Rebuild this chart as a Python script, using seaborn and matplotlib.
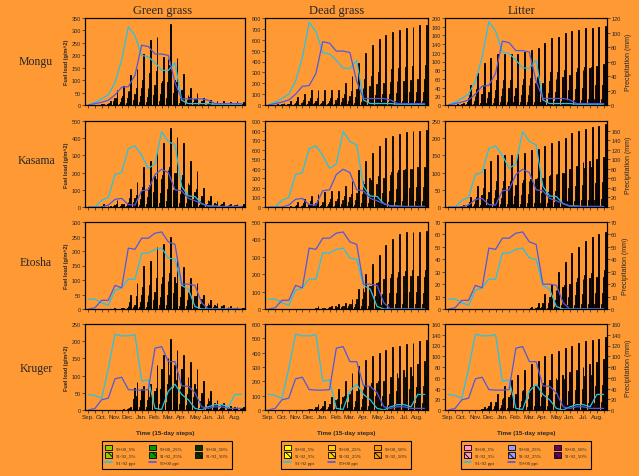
import numpy as np
import pandas as pd
import matplotlib
matplotlib.use("Agg")
import matplotlib.pyplot as plt
from matplotlib.patches import Patch
from matplotlib.lines import Line2D
import seaborn as sns

sns.set_style("ticks")
plt.rcParams['font.family'] = ['Liberation Sans', 'DejaVu Sans']
plt.rcParams['hatch.linewidth'] = 0.6

ORANGE = "#FF9933"
CYAN = "#22C4E8"
BLUE = "#5058E0"
W, H = 639, 477

MONTHS = ["Sep.", "Oct.", "Nov.", "Dec.", "Jan.", "Feb.", "Mar.",
          "Apr.", "May", "Jun.", "Jul.", "Aug."]
STEPS = list(range(24))
SITES = ["Mongu", "Kasama", "Etosha", "Kruger"]
FUELS = ["Green grass", "Dead grass", "Litter"]
SERIES = ["99-00_5%", "99-00_25%", "99-00_50%", "91-92_5%", "91-92_25%", "91-92_50%"]

# ── fuel load (g/m^2), 24 steps of 15 days ───────────────────────
# Mongu
mo_gg_00_5  = [0,0,0,1,5,5,9,7,12,11,13,15,30,16,10,7,4,3,2,1,1,1,1,1]
mo_gg_00_25 = [0,0,1,4,15,14,28,22,35,34,40,45,92,50,30,20,12,8,5,4,3,2,2,2]
mo_gg_00_50 = [0,0,3,8,30,30,55,45,70,70,80,90,185,100,60,40,25,15,10,8,6,5,4,4]
mo_gg_92_5  = [0,0,1,2,9,11,18,22,32,40,42,30,50,29,19,11,8,5,3,3,2,2,2,2]
mo_gg_92_25 = [0,1,2,7,28,36,58,70,100,128,135,95,160,92,60,34,24,15,11,9,7,6,7,6]
mo_gg_92_50 = [0,2,5,15,60,75,120,145,205,260,275,195,325,190,125,70,50,30,22,18,15,13,15,12]
mo_dg_00_5  = [0,0,1,1,3,4,6,6,6,6,7,9,12,22,24,26,28,30,31,33,34,35,35,36]
mo_dg_00_25 = [0,0,2,5,10,15,20,20,20,20,25,30,40,75,80,88,95,100,105,110,112,115,118,120]
mo_dg_00_50 = [0,0,5,10,20,30,40,40,40,40,50,60,80,150,160,175,190,200,210,220,225,230,235,240]
mo_dg_92_5  = [0,1,2,6,11,15,21,21,21,21,21,31,40,59,72,83,92,96,101,104,107,108,110,111]
mo_dg_92_25 = [0,2,7,20,36,48,68,68,68,68,68,100,130,190,235,270,300,315,330,340,350,355,362,365]
mo_dg_92_50 = [0,5,15,40,75,100,140,140,140,140,140,205,265,390,480,550,610,640,670,690,710,720,735,740]
mo_li_00_5  = [0,0,0,2,3,4,5,5,6,6,6,7,7,8,8,8,9,10,11,11,12,13,14,14]
mo_li_00_25 = [0,0,1,7,10,12,15,17,20,20,20,22,22,25,25,27,30,32,35,37,40,42,45,47]
mo_li_00_50 = [0,0,2,15,20,25,30,35,40,40,40,45,45,50,50,55,60,65,70,75,80,85,90,95]
mo_li_92_5  = [0,0,1,7,11,14,16,18,18,18,18,18,19,20,21,23,24,25,25,26,27,27,27,27]
mo_li_92_25 = [0,1,2,22,36,47,53,58,58,58,58,60,62,65,70,75,77,81,83,85,87,88,89,90]
mo_li_92_50 = [0,2,5,46,74,97,108,118,118,118,118,122,126,132,142,153,157,165,169,173,177,178,180,181]
# Kasama
ka_gg_00_5  = [0,0,0,0,2,2,5,8,14,17,27,24,32,30,23,21,14,10,6,4,3,2,2,1]
ka_gg_00_25 = [0,0,1,1,5,7,15,27,47,57,90,80,107,100,77,70,45,32,20,12,9,6,5,4]
ka_gg_00_50 = [0,0,3,3,10,15,30,55,95,115,180,160,215,200,155,140,90,65,40,25,18,12,10,8]
ka_gg_92_5  = [0,0,2,1,6,3,16,22,35,40,50,55,69,61,55,40,32,17,10,5,4,3,3,2]
ka_gg_92_25 = [0,0,7,2,20,10,52,72,115,130,165,185,230,200,185,130,105,55,32,17,15,10,10,7]
ka_gg_92_50 = [0,0,15,5,40,20,105,145,230,265,330,370,460,405,370,265,210,110,65,35,30,20,20,15]
ka_dg_00_5  = [0,0,0,1,1,3,4,6,7,8,9,10,15,22,40,45,36,45,51,55,58,60,62,63]
ka_dg_00_25 = [0,0,1,2,5,10,15,20,25,27,30,35,50,75,135,150,120,150,170,185,195,200,207,210]
ka_dg_00_50 = [0,0,2,5,10,20,30,40,50,55,60,70,100,150,270,300,240,300,340,370,390,400,415,420]
ka_dg_92_5  = [0,0,1,2,7,13,18,21,24,25,25,33,41,58,73,85,96,108,111,115,118,120,120,121]
ka_dg_92_25 = [0,0,2,7,25,42,60,70,80,85,85,110,137,195,242,285,320,360,370,382,395,400,400,402]
ka_dg_92_50 = [0,0,5,15,50,85,120,140,160,170,170,220,275,390,485,570,640,720,740,765,790,800,800,805]
ka_li_00_5  = [0,0,0,1,3,5,7,7,8,9,10,10,11,12,13,13,14,15,16,18,19,20,21,22]
ka_li_00_25 = [0,0,1,5,10,17,22,25,27,30,32,35,37,40,42,45,47,50,55,60,65,67,70,72]
ka_li_00_50 = [0,0,2,10,20,35,45,50,55,60,65,70,75,80,85,90,95,100,110,120,130,135,140,145]
ka_li_92_5  = [0,0,1,4,9,16,20,22,22,23,23,24,25,25,27,28,29,30,32,33,34,35,35,36]
ka_li_92_25 = [0,0,2,15,30,55,67,75,75,76,77,79,82,85,89,92,96,100,107,111,114,116,118,120]
ka_li_92_50 = [0,0,5,30,60,110,135,150,150,152,155,158,165,170,178,185,192,200,215,222,228,233,236,241]
# Etosha
et_gg_00_5  = [0,0,0,0,0,0,1,2,7,7,9,13,14,16,12,9,7,5,3,2,1,1,1,0]
et_gg_00_25 = [0,0,0,0,1,1,5,7,25,25,30,42,47,55,40,30,22,17,10,7,5,4,2,1]
et_gg_00_50 = [0,0,0,0,2,3,10,15,50,50,60,85,95,110,80,60,45,35,20,15,10,8,5,3]
et_gg_92_5  = [0,0,0,0,0,1,7,13,22,25,32,34,37,27,22,16,13,7,4,3,2,1,1,1]
et_gg_92_25 = [0,0,0,0,0,2,25,44,75,82,107,112,125,90,72,54,45,25,15,10,7,5,4,2]
et_gg_92_50 = [0,0,0,0,0,5,50,88,150,165,215,225,250,180,145,108,90,50,30,20,15,10,8,5]
et_dg_00_5  = [0,0,0,0,0,0,0,1,0,1,2,3,4,9,18,19,22,25,27,28,28,28,28,28]
et_dg_00_25 = [0,0,0,0,0,0,0,2,1,5,7,10,15,30,60,65,75,85,90,92,94,95,95,92]
et_dg_00_50 = [0,0,0,0,0,0,0,5,3,10,15,20,30,60,120,130,150,170,180,185,188,190,190,185]
et_dg_92_5  = [0,0,0,0,0,0,0,2,1,3,4,5,8,17,30,39,46,55,61,64,66,67,67,67]
et_dg_92_25 = [0,0,0,0,0,0,0,7,2,10,14,17,27,57,100,130,155,185,202,215,220,222,222,225]
et_dg_92_50 = [0,0,0,0,0,0,0,15,5,20,28,35,55,115,200,260,310,370,405,430,440,445,445,450]
et_li_00_5  = [0,0,0,0,0,0,0,0,0,0,0,0,0,0,1,1,2,3,3,3,4,4,4,4]
et_li_00_25 = [0,0,0,0,0,0,0,0,0,0,0,0,0,0,2,5,7,9,10,11,12,12,13,13]
et_li_00_50 = [0,0,0,0,0,0,0,0,0,0,0,0,0,1,5,10,15,18,20,22,24,25,26,26]
et_li_92_5  = [0,0,0,0,0,0,0,0,0,0,0,0,0,1,2,3,4,6,7,7,8,9,9,9]
et_li_92_25 = [0,0,0,0,0,0,0,0,0,0,0,0,1,2,6,10,15,19,22,25,27,29,30,31]
et_li_92_50 = [0,0,0,0,0,0,0,0,0,0,0,0,2,5,12,20,30,38,45,50,55,58,60,62]
# Kruger
kr_gg_00_5  = [0,0,0,0,0,0,1,10,9,9,8,18,22,19,18,14,11,7,5,3,2,1,1,1]
kr_gg_00_25 = [0,0,0,0,0,0,2,32,30,30,27,60,75,65,60,47,37,25,17,10,7,5,4,2]
kr_gg_00_50 = [0,0,0,0,0,0,5,65,60,60,55,120,150,130,120,95,75,50,35,20,15,10,8,5]
kr_gg_92_5  = [0,0,0,0,0,0,1,12,10,11,19,24,30,26,24,21,18,13,8,4,3,2,1,1]
kr_gg_92_25 = [0,0,0,0,0,1,5,40,35,37,65,80,102,87,80,70,60,42,27,15,10,6,5,4]
kr_gg_92_50 = [0,0,0,0,0,3,10,80,70,75,130,160,205,175,160,140,120,85,55,30,20,12,10,8]
kr_dg_00_5  = [0,0,0,0,0,0,1,3,4,7,10,13,16,19,22,25,28,30,34,39,42,45,48,51]
kr_dg_00_25 = [0,0,0,0,0,0,2,10,15,22,35,45,55,65,75,85,95,100,115,130,140,150,160,170]
kr_dg_00_50 = [0,0,0,0,0,0,5,20,30,45,70,90,110,130,150,170,190,200,230,260,280,300,320,340]
kr_dg_92_5  = [0,0,0,0,0,0,1,6,9,13,22,30,39,46,52,57,60,63,66,67,69,70,72,73]
kr_dg_92_25 = [0,0,0,0,0,0,5,20,30,45,75,100,130,155,175,190,200,210,220,225,230,235,240,245]
kr_dg_92_50 = [0,0,0,0,0,0,10,40,60,90,150,200,260,310,350,380,400,420,440,450,460,470,480,490]
kr_li_00_5  = [0,0,0,0,0,0,1,2,3,4,4,5,6,7,7,8,9,10,10,11,12,13,13,14]
kr_li_00_25 = [0,0,0,0,0,1,4,7,10,12,15,17,20,22,25,27,30,32,35,37,40,42,45,47]
kr_li_00_50 = [0,0,0,0,0,2,8,15,20,25,30,35,40,45,50,55,60,65,70,75,80,85,90,95]
kr_li_92_5  = [0,0,0,0,0,1,2,4,7,8,10,11,13,14,15,16,16,17,18,19,19,19,20,20]
kr_li_92_25 = [0,0,0,0,0,2,7,15,22,27,32,37,42,46,50,52,55,57,60,62,64,65,66,67]
kr_li_92_50 = [0,0,0,0,0,5,15,30,45,55,65,75,85,92,100,105,110,115,120,125,128,130,132,135]

# ── precipitation (mm) ──────────────────────────────────────────
mo_ppt_9192 = [0,4,9,15,33,66,115,102,73,71,62,51,51,62,7,2,2,2,2,1,1,1,1,1]
mo_ppt_9900 = [0,2,4,7,15,26,27,44,88,86,75,75,73,33,9,9,9,9,7,2,2,2,2,2]
ka_ppt_9192 = [0,0,14,20,68,72,122,128,108,81,90,158,137,130,43,23,22,7,2,2,1,1,1,1]
ka_ppt_9900 = [0,0,0,4,16,18,5,4,34,36,68,79,72,36,34,18,13,7,2,1,1,1,1,1]
et_ppt_9192 = [8,8,5,3,15,17,24,24,45,45,48,49,41,40,19,16,2,0,0,0,0,0,0,0]
et_ppt_9900 = [0,1,7,7,19,17,49,48,57,57,61,62,54,52,20,20,19,5,0,0,0,0,0,0]
kr_ppt_9192 = [29,27,22,77,141,138,138,140,54,56,3,1,35,48,29,19,3,0,6,10,10,6,29,29]
kr_ppt_9900 = [0,3,19,22,58,61,38,37,37,38,115,118,90,90,45,44,32,6,3,6,6,3,3,3]

BARS = {
    (0, 0): [mo_gg_00_5, mo_gg_00_25, mo_gg_00_50, mo_gg_92_5, mo_gg_92_25, mo_gg_92_50],
    (0, 1): [mo_dg_00_5, mo_dg_00_25, mo_dg_00_50, mo_dg_92_5, mo_dg_92_25, mo_dg_92_50],
    (0, 2): [mo_li_00_5, mo_li_00_25, mo_li_00_50, mo_li_92_5, mo_li_92_25, mo_li_92_50],
    (1, 0): [ka_gg_00_5, ka_gg_00_25, ka_gg_00_50, ka_gg_92_5, ka_gg_92_25, ka_gg_92_50],
    (1, 1): [ka_dg_00_5, ka_dg_00_25, ka_dg_00_50, ka_dg_92_5, ka_dg_92_25, ka_dg_92_50],
    (1, 2): [ka_li_00_5, ka_li_00_25, ka_li_00_50, ka_li_92_5, ka_li_92_25, ka_li_92_50],
    (2, 0): [et_gg_00_5, et_gg_00_25, et_gg_00_50, et_gg_92_5, et_gg_92_25, et_gg_92_50],
    (2, 1): [et_dg_00_5, et_dg_00_25, et_dg_00_50, et_dg_92_5, et_dg_92_25, et_dg_92_50],
    (2, 2): [et_li_00_5, et_li_00_25, et_li_00_50, et_li_92_5, et_li_92_25, et_li_92_50],
    (3, 0): [kr_gg_00_5, kr_gg_00_25, kr_gg_00_50, kr_gg_92_5, kr_gg_92_25, kr_gg_92_50],
    (3, 1): [kr_dg_00_5, kr_dg_00_25, kr_dg_00_50, kr_dg_92_5, kr_dg_92_25, kr_dg_92_50],
    (3, 2): [kr_li_00_5, kr_li_00_25, kr_li_00_50, kr_li_92_5, kr_li_92_25, kr_li_92_50],
}
PPT = [(mo_ppt_9192, mo_ppt_9900), (ka_ppt_9192, ka_ppt_9900),
       (et_ppt_9192, et_ppt_9900), (kr_ppt_9192, kr_ppt_9900)]

FUEL_YMAX = [[350, 800, 200], [500, 900, 250], [300, 500, 70], [250, 600, 160]]
FUEL_STEP = [[50, 100, 20], [100, 100, 50], [50, 100, 10], [50, 100, 20]]
PPT_YMAX = [[128, 121, 120], [180, 180, 180], [70, 70, 70], [160, 160, 160]]
PPT_TICKS = [range(0, 121, 20), range(0, 161, 20), range(0, 71, 10), range(0, 161, 20)]

PALETTES = [["#99CC00", "#009900", "#003300"] * 2,
            ["#FFFF00", "#FFCC00", "#FF9900"] * 2,
            ["#FF99CC", "#9999FF", "#660066"] * 2]

ROWS = [(19, 106), (122, 208), (223, 310), (325, 411)]
COLS = [(85, 245), (265, 428), (445, 607)]

def rect(col, row):
    l, r = col
    t, b = row
    return [l / W, 1 - b / H, (r - l) / W, (b - t) / H]

fig = plt.figure(figsize=(W / 100, H / 100), dpi=100)
fig.patch.set_facecolor(ORANGE)

for r, site in enumerate(SITES):
    for c, fuel in enumerate(FUELS):
        ax = fig.add_axes(rect(COLS[c], ROWS[r]))
        ax.set_facecolor(ORANGE)
        vals = BARS[(r, c)]
        df = pd.DataFrame({"step": np.tile(STEPS, 6),
                           "load": np.concatenate(vals),
                           "series": np.repeat(SERIES, 24)})
        sns.barplot(data=df, x="step", y="load", hue="series", hue_order=SERIES,
                    palette=PALETTES[c], width=0.72, errorbar=None, legend=False,
                    edgecolor="black", linewidth=0.65, ax=ax)
        for k in (3, 4, 5):
            for bar in ax.containers[k]:
                bar.set_hatch("\\\\\\")
        ax.set_xlim(-0.5, 23.5)
        ax.set_ylim(0, FUEL_YMAX[r][c])
        ax.set_yticks(range(0, FUEL_YMAX[r][c] + 1, FUEL_STEP[r][c]))
        ax.set_xticks(range(0, 24, 2))
        ax.set_xticks(range(1, 24, 2), minor=True)
        ax.tick_params(axis="both", which="both", labelsize=4, length=2,
                       width=0.5, pad=1)
        ax.set_xlabel("")
        ax.set_ylabel("")
        if r == 3:
            ax.set_xticklabels(MONTHS, fontsize=4.5)
            ax.set_xlabel("Time (15-day steps)", fontsize=4.5, fontweight="bold",
                          labelpad=8)
        else:
            ax.set_xticklabels([])
        if c == 0:
            ax.set_ylabel("Fuel load (g/m^2)", fontsize=4, fontweight="bold",
                          labelpad=2)

        ax2 = ax.twinx()
        p92, p00 = PPT[r]
        sns.lineplot(x=STEPS, y=p92, color=CYAN, lw=0.9, ax=ax2)
        sns.lineplot(x=STEPS, y=p00, color=BLUE, lw=0.9, ax=ax2)
        ax2.set_xlim(-0.5, 23.5)
        ax2.set_ylim(0, PPT_YMAX[r][c])
        if c == 2:
            ax2.set_yticks(PPT_TICKS[r])
            ax2.tick_params(axis="y", labelsize=4, length=2, width=0.5, pad=1)
            ax2.set_ylabel("Precipitation (mm)", fontsize=5, labelpad=3)
        else:
            ax2.set_yticks([])
            ax2.set_ylabel("")
        for a in (ax, ax2):
            for s in a.spines.values():
                s.set_color("black")
                s.set_linewidth(0.8)

# row and column captions
serif = ["Liberation Serif", "DejaVu Serif"]
for site, y in zip(SITES, [62, 161, 263, 369]):
    fig.text(36 / W, 1 - y / H, site, family=serif, fontsize=8.5,
             ha="center", va="center")
for fuel, x in zip(FUELS, [163, 337, 522]):
    fig.text(x / W, 1 - 11 / H, fuel, family=serif, fontsize=9,
             ha="center", va="center")

# legends under each column
for c, cx in enumerate([167, 346, 526]):
    pal = PALETTES[c]
    patches = []
    for k, name in enumerate(SERIES):
        patches.append(Patch(facecolor=pal[k], edgecolor="black", lw=0.6,
                             hatch="\\\\\\" if k >= 3 else None, label=name))
    l92 = Line2D([], [], color=CYAN, lw=1.2, label="91-92 ppt")
    l00 = Line2D([], [], color=BLUE, lw=1.2, label="99-00 ppt")
    handles = [patches[0], patches[3], l92, patches[1], patches[4], l00,
               patches[2], patches[5]]
    leg = fig.legend(handles=handles, loc="center", ncol=3,
                     bbox_to_anchor=(cx / W, 1 - 456 / H),
                     prop={"family": serif, "size": 3.5},
                     frameon=True, fancybox=False, edgecolor="black",
                     facecolor=ORANGE, framealpha=1, handlelength=1.4,
                     handleheight=1.3, columnspacing=2.6, borderpad=0.7,
                     labelspacing=0.45, handletextpad=0.8)
    leg.get_frame().set_linewidth(0.8)

fig.savefig("out.png", dpi=100, facecolor=ORANGE)
